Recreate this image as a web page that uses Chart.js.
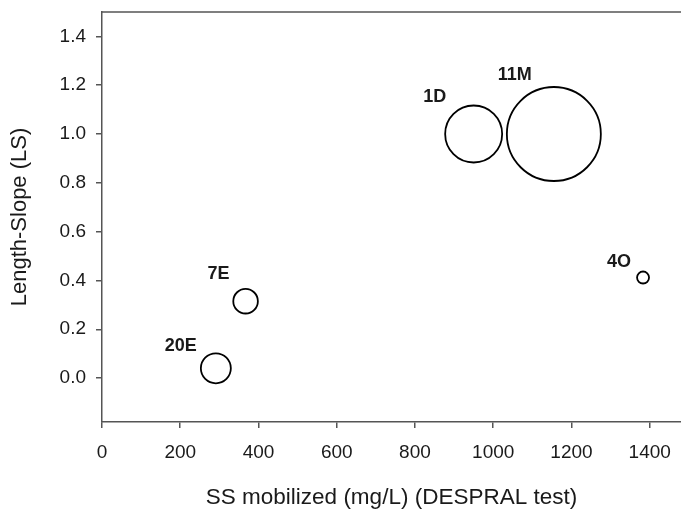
<!DOCTYPE html>
<html>
<head>
<meta charset="utf-8">
<script src="https://cdn.jsdelivr.net/npm/chart.js@4/dist/chart.umd.min.js"></script>
<style>
  html, body { margin: 0; padding: 0; background: #fff; }
  #wrap { width: 681px; height: 512px; }
</style>
</head>
<body>
<div id="wrap"><canvas id="bubbles" width="681" height="512"></canvas></div>
<script>
// sites et valeurs
const sites = ['1D', '11M', '7E', '20E', '4O'];
const ssMobilized = [950, 1155, 367, 291, 1383];
const lengthSlope = [1.0, 1.0, 0.315, 0.04, 0.412];
const bubbleSize = [28.5, 47, 12.3, 15, 6];

const xTicks = [0, 200, 400, 600, 800, 1000, 1200, 1400];
const yTicks = [0.0, 0.2, 0.4, 0.6, 0.8, 1.0, 1.2, 1.4];

// decalage des etiquettes par rapport au centre de la bulle (px)
const labelOffsets = [[-39, -37], [-39, -59], [-27, -27], [-35, -22], [-24, -15]];

const axisColor = '#555';
const textColor = '#1a1a1a';
const fontFamily = 'Arial, "Liberation Sans", sans-serif';

let points = sites.map((s, i) => ({ x: ssMobilized[i], y: lengthSlope[i], r: bubbleSize[i] }));

const siteLabels = {
    id: 'siteLabels',
    afterDatasetsDraw(chart) {
        const ctx = chart.ctx;
        const meta = chart.getDatasetMeta(0);
        ctx.save();
        ctx.font = 'bold 18px ' + fontFamily;
        ctx.fillStyle = textColor;
        ctx.textAlign = 'center';
        ctx.textBaseline = 'middle';
        meta.data.forEach((el, i) => {
            ctx.fillText(sites[i], el.x + labelOffsets[i][0], el.y + labelOffsets[i][1]);
        });
        ctx.restore();
    }
};

const topBorder = {
    id: 'topBorder',
    afterDraw(chart) {
        const a = chart.chartArea;
        const ctx = chart.ctx;
        ctx.save();
        ctx.strokeStyle = axisColor;
        ctx.lineWidth = 1.5;
        ctx.beginPath();
        ctx.moveTo(a.left, a.top);
        ctx.lineTo(a.right, a.top);
        ctx.stroke();
        ctx.restore();
    }
};

let ctx = document.getElementById('bubbles').getContext('2d');
let chart = new Chart(ctx, {
    type: 'bubble',
    data: {
        datasets: [{
            data: points,
            backgroundColor: 'rgba(0,0,0,0)',
            borderColor: '#000',
            borderWidth: 1.8,
            hoverBorderWidth: 1.8
        }]
    },
    options: {
        responsive: false,
        animation: false,
        events: [],
        layout: { padding: { top: 12, right: 0, left: 0, bottom: 0 }, autoPadding: false },
        plugins: {
            legend: { display: false },
            tooltip: { enabled: false }
        },
        scales: {
            x: {
                type: 'linear',
                min: 0,
                max: 1480,
                afterBuildTicks: scale => { scale.ticks = xTicks.map(v => ({ value: v })); },
                afterFit: scale => {
                    scale.height = 90;
                    scale.paddingLeft = 0;
                    scale.paddingRight = 0;
                },
                ticks: {
                    padding: 13,
                    color: textColor,
                    font: { family: fontFamily, size: 19 },
                    callback: v => String(v)
                },
                grid: { drawOnChartArea: false, drawTicks: true, tickLength: 6, color: axisColor, lineWidth: 1.5 },
                border: { display: true, color: axisColor, width: 1.5 },
                title: {
                    display: true,
                    text: 'SS mobilized (mg/L) (DESPRAL test)',
                    color: textColor,
                    font: { family: fontFamily, size: 22.5 },
                    padding: { top: 0, bottom: 1 }
                }
            },
            y: {
                type: 'linear',
                min: -0.18,
                max: 1.5,
                afterBuildTicks: scale => { scale.ticks = yTicks.map(v => ({ value: v })); },
                afterFit: scale => {
                    scale.width = 102;
                    scale.paddingTop = 0;
                    scale.paddingBottom = 0;
                },
                ticks: {
                    padding: 10,
                    color: textColor,
                    font: { family: fontFamily, size: 19 },
                    callback: v => Number(v).toFixed(1)
                },
                grid: { drawOnChartArea: false, drawTicks: true, tickLength: 6, color: axisColor, lineWidth: 1.5 },
                border: { display: true, color: axisColor, width: 1.5 },
                title: {
                    display: true,
                    text: 'Length-Slope (LS)',
                    color: textColor,
                    font: { family: fontFamily, size: 22 },
                    padding: { top: 7, bottom: 0 }
                }
            }
        }
    },
    plugins: [siteLabels, topBorder]
});
</script>
</body>
</html>
